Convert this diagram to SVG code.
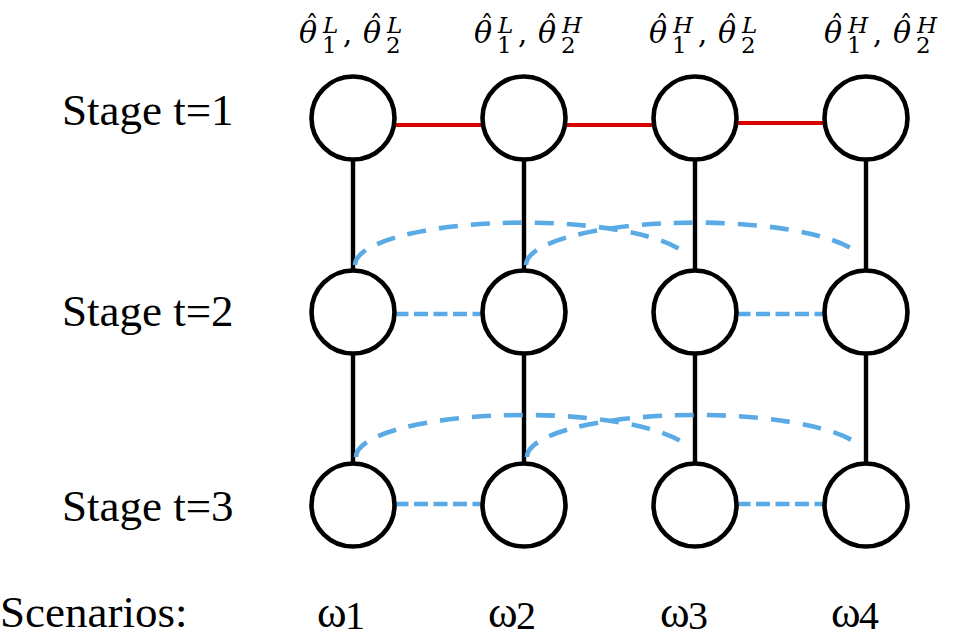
<svg xmlns="http://www.w3.org/2000/svg" width="953" height="638" viewBox="0 0 953 638">
<style>
.node{fill:#fff;stroke:#000;stroke-width:4.6}
.tree{stroke:#000;stroke-width:4.4;fill:none}
.red{stroke:#d90000;stroke-width:4;fill:none}
.bh{stroke:#5aaae6;stroke-width:4.6;stroke-dasharray:14 5.5;fill:none}
.ba{stroke:#5aaae6;stroke-width:4.6;stroke-dasharray:19 13;fill:none}
.lbl{font-family:"Liberation Serif","Times New Roman",serif;font-size:45px;fill:#000}
.math{font-family:"DejaVu Serif","Liberation Serif",serif;fill:#000}
.th{font-style:italic;font-size:30px}
.cm{font-size:29px}
.hat{font-size:26px;text-anchor:middle}
.sup{font-style:italic;font-size:23px}
.sub{font-size:23px}
.om{font-family:"Liberation Serif","Times New Roman",serif;font-size:45px;fill:#000}
.osub{font-size:40px}
</style>
<rect width="953" height="638" fill="#fff"/>

<g id="connectors">
  <g id="tree-lines">
    <line class="tree" x1="353" y1="159.5" x2="353" y2="270.5"/>
    <line class="tree" x1="353" y1="353.5" x2="353" y2="463.5"/>
    <line class="tree" x1="524" y1="159.5" x2="524" y2="270.5"/>
    <line class="tree" x1="524" y1="353.5" x2="524" y2="463.5"/>
    <line class="tree" x1="695" y1="159.5" x2="695" y2="270.5"/>
    <line class="tree" x1="695" y1="353.5" x2="695" y2="463.5"/>
    <line class="tree" x1="866" y1="159.5" x2="866" y2="270.5"/>
    <line class="tree" x1="866" y1="353.5" x2="866" y2="463.5"/>
  </g>
  <g id="stage1-links">
    <line class="red" x1="394.5" y1="125" x2="482.5" y2="125"/>
    <line class="red" x1="565.5" y1="125" x2="653.5" y2="125"/>
    <line class="red" x1="736.5" y1="123" x2="824.5" y2="123"/>
  </g>
  <g id="stage2-links">
    <line class="bh" x1="394.5" y1="314" x2="482.5" y2="314"/>
    <line class="bh" x1="736.5" y1="314" x2="824.5" y2="314"/>
    <path class="ba" d="M355 265 A168.5 42.5 0 0 1 685 253"/>
    <path class="ba" d="M526 265 A169.5 42.5 0 0 1 858 253"/>
  </g>
  <g id="stage3-links">
    <line class="bh" x1="394.5" y1="504" x2="482.5" y2="504"/>
    <line class="bh" x1="736.5" y1="504" x2="824.5" y2="504"/>
    <path class="ba" d="M356 457 A168.5 42 0 0 1 686 445"/>
    <path class="ba" d="M527 457 A169.5 42 0 0 1 859 445"/>
  </g>
</g>

<g id="nodes">
  <g id="n-1-1"><circle class="node" cx="353" cy="118" r="41.5"/></g>
  <g id="n-1-2"><circle class="node" cx="524" cy="118" r="41.5"/></g>
  <g id="n-1-3"><circle class="node" cx="695" cy="118" r="41.5"/></g>
  <g id="n-1-4"><circle class="node" cx="866" cy="118" r="41.5"/></g>
  <g id="n-2-1"><circle class="node" cx="353" cy="312" r="41.5"/></g>
  <g id="n-2-2"><circle class="node" cx="524" cy="312" r="41.5"/></g>
  <g id="n-2-3"><circle class="node" cx="695" cy="312" r="41.5"/></g>
  <g id="n-2-4"><circle class="node" cx="866" cy="312" r="41.5"/></g>
  <g id="n-3-1"><circle class="node" cx="353" cy="505" r="41.5"/></g>
  <g id="n-3-2"><circle class="node" cx="524" cy="505" r="41.5"/></g>
  <g id="n-3-3"><circle class="node" cx="695" cy="505" r="41.5"/></g>
  <g id="n-3-4"><circle class="node" cx="866" cy="505" r="41.5"/></g>
</g>

<g id="stage-labels">
  <text class="lbl" x="62" y="125">Stage t=1</text>
  <text class="lbl" x="62" y="326">Stage t=2</text>
  <text class="lbl" x="62" y="521">Stage t=3</text>
  <text class="lbl" x="0" y="627">Scenarios:</text>
</g>

<g id="scenario-labels">
  <text class="om" x="317" y="627">ω<tspan class="osub" x="345" y="629">1</tspan></text>
  <text class="om" x="488" y="627">ω<tspan class="osub" x="516" y="629">2</tspan></text>
  <text class="om" x="660" y="627">ω<tspan class="osub" x="688" y="629">3</tspan></text>
  <text class="om" x="831" y="627">ω<tspan class="osub" x="859" y="629">4</tspan></text>
</g>

<g id="param-labels">
  <text id="lab-1" class="math"><tspan class="th" x="299" y="43">θ</tspan><tspan class="hat" x="312" y="34">ˆ</tspan><tspan class="sup" x="323" y="33">L</tspan><tspan class="sub" x="322" y="53">1</tspan><tspan class="cm" x="343" y="43">,</tspan><tspan class="th" x="363" y="43">θ</tspan><tspan class="hat" x="376" y="34">ˆ</tspan><tspan class="sup" x="387" y="33">L</tspan><tspan class="sub" x="386" y="53">2</tspan></text>
  <text id="lab-2" class="math"><tspan class="th" x="474" y="43">θ</tspan><tspan class="hat" x="487" y="34">ˆ</tspan><tspan class="sup" x="498" y="33">L</tspan><tspan class="sub" x="497" y="53">1</tspan><tspan class="cm" x="518" y="43">,</tspan><tspan class="th" x="538" y="43">θ</tspan><tspan class="hat" x="551" y="34">ˆ</tspan><tspan class="sup" x="562" y="33">H</tspan><tspan class="sub" x="561" y="53">2</tspan></text>
  <text id="lab-3" class="math"><tspan class="th" x="649" y="43">θ</tspan><tspan class="hat" x="662" y="34">ˆ</tspan><tspan class="sup" x="673" y="33">H</tspan><tspan class="sub" x="672" y="53">1</tspan><tspan class="cm" x="698" y="43">,</tspan><tspan class="th" x="718" y="43">θ</tspan><tspan class="hat" x="731" y="34">ˆ</tspan><tspan class="sup" x="742" y="33">L</tspan><tspan class="sub" x="741" y="53">2</tspan></text>
  <text id="lab-4" class="math"><tspan class="th" x="824" y="43">θ</tspan><tspan class="hat" x="837" y="34">ˆ</tspan><tspan class="sup" x="848" y="33">H</tspan><tspan class="sub" x="847" y="53">1</tspan><tspan class="cm" x="873" y="43">,</tspan><tspan class="th" x="893" y="43">θ</tspan><tspan class="hat" x="906" y="34">ˆ</tspan><tspan class="sup" x="917" y="33">H</tspan><tspan class="sub" x="916" y="53">2</tspan></text>
</g>
</svg>
